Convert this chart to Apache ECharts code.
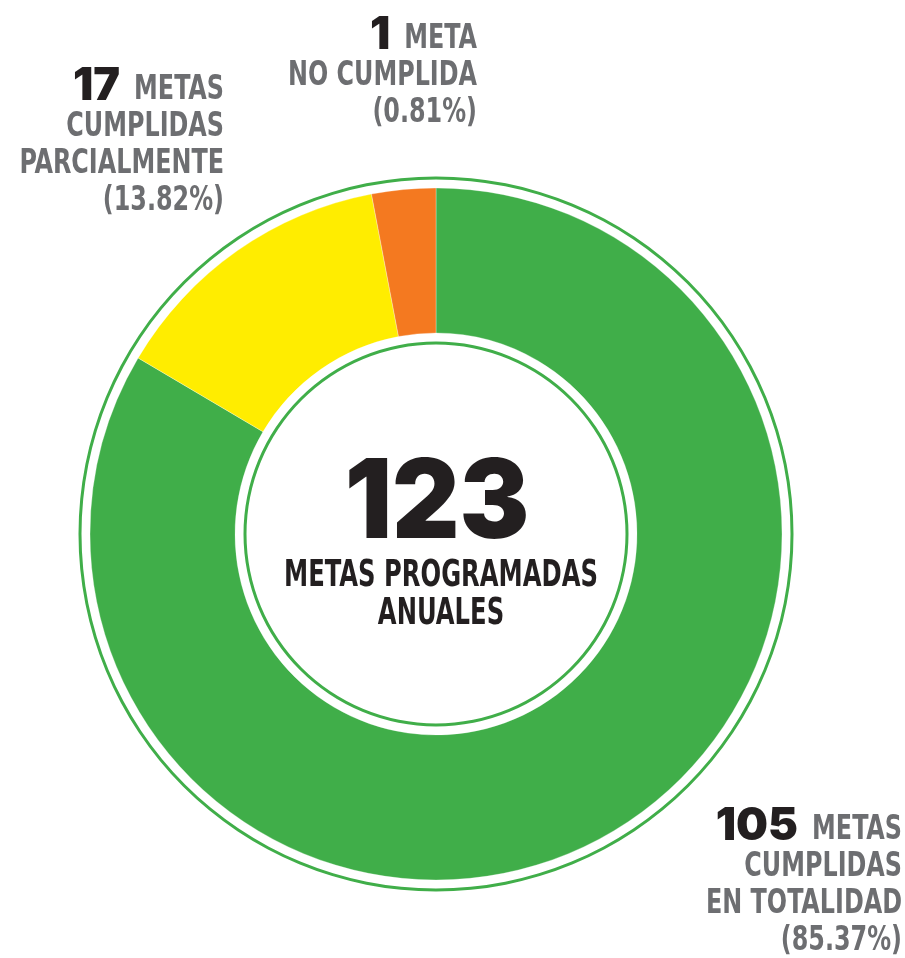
<!DOCTYPE html>
<html>
<head>
<meta charset="utf-8">
<script src="https://cdn.jsdelivr.net/npm/echarts@6/dist/echarts.min.js"></script>
<style>
  html, body { margin: 0; padding: 0; background: #fff; }
  #main { width: 905px; height: 958px; }
</style>
</head>
<body>
<div id="main"></div>
<script>
// metas anuales por estado
const categories = ['CUMPLIDAS EN TOTALIDAD', 'CUMPLIDAS PARCIALMENTE', 'NO CUMPLIDA'];
const counts = [105, 17, 1];
const colors = ['#40ae49', '#ffed00', '#f47920'];
const labelLines = [
  ['METAS', 'CUMPLIDAS', 'EN TOTALIDAD'],
  ['METAS', 'CUMPLIDAS', 'PARCIALMENTE'],
  ['META', 'NO CUMPLIDA']
];
const centerLines = ['METAS PROGRAMADAS', 'ANUALES'];

const total = counts.reduce((a, b) => a + b, 0);

// where each label block sits (right edge, top)
const labelPos = [
  { x: 902, y: 812 },
  { x: 224, y: 72 },
  { x: 477, y: 21 }
];

const cx = 436, cy = 534;
const lblFont = '"Liberation Sans Narrow", "DejaVu Sans Condensed", sans-serif';
const numFont = 'Inter, Roboto, sans-serif';
const lblScale = 0.78;

// canvas para medir el ancho de la primera linea
const measureCtx = document.createElement('canvas').getContext('2d');
function textWidth(str, font) {
  measureCtx.font = font;
  return measureCtx.measureText(str).width;
}

let chart = echarts.init(document.getElementById('main'));

var labelGraphics = [];
counts.forEach((v, i) => {
  let pct = (v / total * 100).toFixed(2) + '%';
  let lines = labelLines[i].concat(['(' + pct + ')']);
  let pos = labelPos[i];
  labelGraphics.push({
    type: 'text',
    x: pos.x,
    y: pos.y,
    scaleX: lblScale,
    silent: true,
    style: {
      text: lines.join('\n'),
      align: 'right',
      verticalAlign: 'top',
      fontFamily: lblFont,
      fontWeight: 'bold',
      fontSize: 34,
      lineHeight: 37,
      fill: '#6d6e71'
    }
  });
  let w = textWidth(lines[0], 'bold 34px ' + lblFont) * lblScale;
  labelGraphics.push({
    type: 'text',
    x: pos.x - w - 14,
    y: pos.y - 4,
    silent: true,
    style: {
      text: String(v),
      align: 'right',
      verticalAlign: 'top',
      fontFamily: numFont,
      fontWeight: 900,
      fontSize: 45,
      lineHeight: 37,
      fill: '#231f20'
    }
  });
});

chart.setOption({
  animation: false,
  series: [
    {
      name: 'metas',
      type: 'pie',
      center: [cx, cy],
      radius: [201, 346],
      startAngle: 90,
      clockwise: true,
      minAngle: 10.75,
      silent: true,
      label: { show: false },
      labelLine: { show: false },
      itemStyle: {
        borderColor: 'rgba(255,255,255,0.6)',
        borderWidth: 0.5
      },
      data: counts.map((v, i) => ({
        value: v,
        name: categories[i],
        itemStyle: { color: colors[i] }
      }))
    },
    {
      // anillo exterior
      type: 'pie',
      center: [cx, cy],
      radius: [354.5, 357.5],
      silent: true,
      label: { show: false },
      labelLine: { show: false },
      data: [{ value: 1, itemStyle: { color: '#40ae49' } }]
    },
    {
      // anillo interior
      type: 'pie',
      center: [cx, cy],
      radius: [189.5, 192.5],
      silent: true,
      label: { show: false },
      labelLine: { show: false },
      data: [{ value: 1, itemStyle: { color: '#40ae49' } }]
    }
  ],
  graphic: labelGraphics.concat([
    {
      type: 'text',
      x: cx + 1,
      y: 505,
      scaleX: 0.95,
      silent: true,
      style: {
        text: String(total),
        align: 'center',
        verticalAlign: 'middle',
        fontFamily: numFont,
        fontWeight: 900,
        fontSize: 110,
        fill: '#231f20'
      }
    },
    {
      type: 'text',
      x: cx + 5,
      y: 557,
      scaleX: 0.71,
      silent: true,
      style: {
        text: centerLines.join('\n'),
        align: 'center',
        verticalAlign: 'top',
        fontFamily: lblFont,
        fontWeight: 'bold',
        fontSize: 38,
        lineHeight: 38,
        fill: '#231f20'
      }
    }
  ])
});
</script>
</body>
</html>
